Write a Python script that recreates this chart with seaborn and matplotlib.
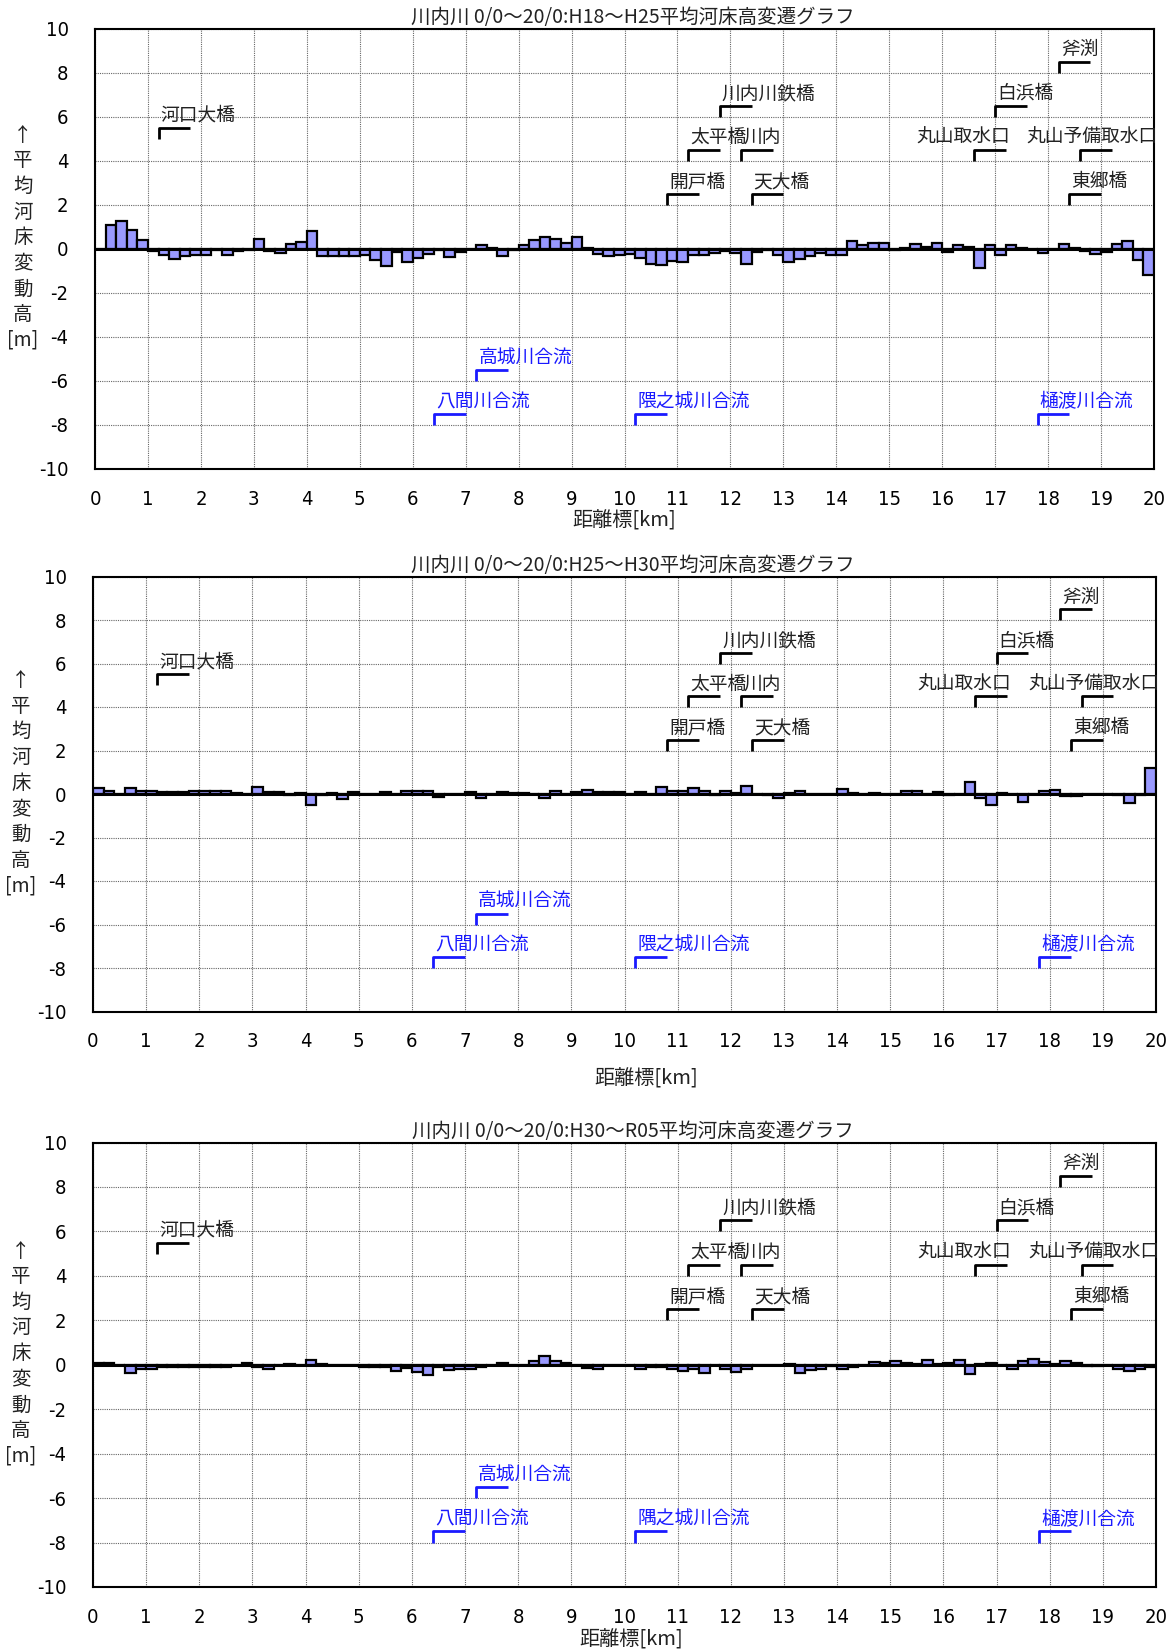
import numpy as np
import pandas as pd
import matplotlib
matplotlib.use("Agg")
import matplotlib.pyplot as plt
import seaborn as sns

sns.set_theme(style="white")
plt.rcParams["font.family"] = ["Noto Sans CJK JP", "DejaVu Sans"]
plt.rcParams["axes.unicode_minus"] = False

# ---- data -------------------------------------------------------------
# mean bed-level change per 0.2 km section (section start km = 0.0 ... 19.8)
section_start_km = [round(0.2 * i, 1) for i in range(100)]

titles = [
    "川内川 0/0～20/0:H18～H25平均河床高変遷グラフ",
    "川内川 0/0～20/0:H25～H30平均河床高変遷グラフ",
    "川内川 0/0～20/0:H30～R05平均河床高変遷グラフ",
]

dz_h18_h25 = [
    0.00, 1.10, 1.28, 0.87, 0.40, -0.12, -0.30, -0.46, -0.35, -0.27,
    -0.30, -0.05, -0.27, -0.08, -0.05, 0.44, -0.12, -0.20, 0.20, 0.30,
    0.79, -0.35, -0.35, -0.35, -0.35, -0.27, -0.50, -0.78, -0.17, -0.62,
    -0.43, -0.23, -0.05, -0.38, -0.17, -0.03, 0.15, 0.03, -0.35, -0.07,
    0.18, 0.41, 0.52, 0.46, 0.26, 0.52, 0.05, -0.24, -0.32, -0.27,
    -0.23, -0.40, -0.70, -0.73, -0.55, -0.62, -0.27, -0.27, -0.20, -0.12,
    -0.20, -0.70, -0.15, -0.05, -0.30, -0.60, -0.46, -0.33, -0.20, -0.28,
    -0.28, 0.33, 0.15, 0.28, 0.25, -0.05, 0.03, 0.20, 0.08, 0.28,
    -0.15, 0.17, 0.08, -0.87, 0.17, -0.30, 0.17, 0.03, 0.00, -0.20,
    0.00, 0.20, 0.05, -0.10, -0.23, -0.13, 0.23, 0.35, -0.50, -1.20,
]

dz_h25_h30 = [
    0.28, 0.13, 0.02, 0.26, 0.15, 0.12, 0.10, 0.08, 0.08, 0.15,
    0.12, 0.12, 0.15, 0.03, 0.00, 0.33, 0.10, 0.10, -0.03, 0.05,
    -0.50, -0.03, 0.05, -0.22, 0.08, 0.00, 0.00, 0.10, 0.00, 0.15,
    0.15, 0.15, -0.15, 0.00, 0.00, 0.10, -0.17, 0.00, 0.08, 0.03,
    0.05, 0.00, -0.20, 0.15, 0.00, 0.08, 0.20, 0.10, 0.08, 0.10,
    0.00, 0.10, 0.00, 0.30, 0.12, 0.12, 0.28, 0.12, -0.03, 0.12,
    0.05, 0.35, 0.00, -0.05, -0.18, 0.05, 0.13, 0.00, 0.00, 0.00,
    0.25, 0.04, 0.00, 0.04, 0.02, 0.00, 0.12, 0.12, 0.00, 0.08,
    -0.03, 0.00, 0.55, -0.18, -0.50, 0.05, 0.00, -0.38, 0.00, 0.12,
    0.18, -0.10, -0.10, 0.02, 0.00, 0.00, -0.04, -0.40, -0.06, 1.20,
]

dz_h30_r05 = [
    0.10, 0.10, 0.00, -0.37, -0.20, -0.20, -0.10, -0.10, -0.10, -0.12,
    -0.12, -0.10, -0.12, 0.00, 0.07, -0.12, -0.20, 0.00, 0.03, -0.03,
    0.20, 0.03, -0.03, -0.02, -0.02, -0.12, -0.10, -0.10, -0.28, -0.13,
    -0.33, -0.45, -0.10, -0.22, -0.20, -0.20, -0.12, 0.00, 0.08, 0.00,
    0.00, 0.15, 0.38, 0.15, 0.10, 0.00, -0.13, -0.20, 0.00, 0.00,
    0.00, -0.18, -0.10, -0.12, -0.20, -0.28, -0.20, -0.36, 0.00, -0.18,
    -0.32, -0.18, -0.03, -0.03, 0.00, 0.02, -0.38, -0.25, -0.17, -0.06,
    -0.17, -0.12, 0.00, 0.13, 0.10, 0.16, 0.08, 0.02, 0.20, 0.05,
    0.10, 0.20, -0.42, 0.02, 0.10, 0.00, -0.18, 0.16, 0.28, 0.13,
    0.02, 0.16, 0.06, -0.06, -0.06, -0.03, -0.18, -0.30, -0.18, -0.12,
]

series = [dz_h18_h25, dz_h25_h30, dz_h30_r05]

# bridges / intakes (black) and tributary confluences (blue)
bridge_names = ["河口大橋", "開戸橋", "太平橋", "川内", "天大橋", "川内川鉄橋",
                "丸山取水口", "白浜橋", "斧渕", "丸山予備取水口", "東郷橋"]
bridge_km = [1.2, 10.8, 11.2, 12.2, 12.4, 11.8, 16.6, 17.0, 18.2, 18.6, 18.4]
bridge_level = [5.0, 2.0, 4.0, 4.0, 2.0, 6.0, 4.0, 6.0, 8.0, 4.0, 2.0]

confluence_names = [
    ["八間川合流", "高城川合流", "隈之城川合流", "樋渡川合流"],
    ["八間川合流", "高城川合流", "隈之城川合流", "樋渡川合流"],
    ["八間川合流", "高城川合流", "隅之城川合流", "樋渡川合流"],
]
confluence_km = [6.4, 7.2, 10.2, 17.8]
confluence_level = [-8.0, -6.0, -8.0, -8.0]

x_ticks = list(range(0, 21))
y_ticks = list(range(-10, 11, 2))

# ---- figure -----------------------------------------------------------
W, H = 1176, 1652
fig = plt.figure(figsize=(W / 100, H / 100), dpi=100)

# axes boxes in pixels: left, top, right, bottom
boxes = [(95, 28.5, 1154, 469), (93, 576.5, 1156, 1011.5), (93, 1142.5, 1156, 1587)]
xlabel_pos = [(0.50, -0.119), (0.52, -0.155), (0.506, -0.119)]

BAR = "#9999ff"
BLUE = "#1a1aff"
DARK = "#222222"
label_size = 13.5

# labels whose text ends near the bracket instead of starting there
right_aligned = {"丸山取水口": 0.68, "丸山予備取水口": 1.47}

for i, (title, dz) in enumerate(zip(titles, series)):
    l, t, r, b = boxes[i]
    ax = fig.add_axes([l / W, 1 - b / H, (r - l) / W, (b - t) / H])

    df = pd.DataFrame({"km": [s + 0.1 for s in section_start_km], "dz": dz})
    sns.barplot(data=df, x="km", y="dz", native_scale=True, width=1.0,
                color=BAR, saturation=1, edgecolor="black", linewidth=1.6,
                errorbar=None, ax=ax, zorder=3)

    ax.axhline(0, color="black", lw=2.2, zorder=4)
    ax.set_xlim(0, 20)
    ax.set_ylim(-10, 10)
    ax.set_xticks(x_ticks)
    ax.set_yticks(y_ticks)
    ax.set_xticklabels([str(v) for v in x_ticks])
    ax.set_yticklabels([str(v) for v in y_ticks])
    ax.tick_params(axis="both", length=0, labelsize=14.5, colors="black")
    ax.tick_params(axis="x", pad=15)
    ax.tick_params(axis="y", pad=19)
    for lab in ax.get_xticklabels() + ax.get_yticklabels():
        lab.set_fontfamily(["DejaVu Sans"])
        lab.set_fontstretch("condensed")

    ax.grid(True, color="#666666", linestyle=(0, (1, 1)), linewidth=0.8, zorder=0)
    ax.set_axisbelow(True)
    for sp in ax.spines.values():
        sp.set_color("black")
        sp.set_linewidth(1.5)
    ax.set_xlabel("")
    ax.set_ylabel("")

    ax.set_title(title, fontsize=14, pad=4, color=DARK, x=0.508)
    ax.text(xlabel_pos[i][0], xlabel_pos[i][1], "距離標[km]", transform=ax.transAxes,
            ha="center", va="center", fontsize=14.5, color=DARK)
    ax.text(-0.068, 0.525, "\n".join(["↑", "平", "均", "河", "床", "変", "動", "高", "[m]"]),
            transform=ax.transAxes, ha="center", va="center", fontsize=14,
            linespacing=1.29, color=DARK)

    # bridge markers
    for name, km, lev in zip(bridge_names, bridge_km, bridge_level):
        ax.plot([km, km, km + 0.6], [lev, lev + 0.5, lev + 0.5],
                color="black", lw=2, solid_capstyle="butt", zorder=5)
        if name in right_aligned:
            ax.text(km + right_aligned[name], lev + 1.05, name, ha="right",
                    va="center", fontsize=label_size, color=DARK, zorder=6)
        else:
            ax.text(km + 0.04, lev + 1.05, name, ha="left", va="center",
                    fontsize=label_size, color=DARK, zorder=6)

    # confluence markers
    for name, km, lev in zip(confluence_names[i], confluence_km, confluence_level):
        ax.plot([km, km, km + 0.6], [lev, lev + 0.5, lev + 0.5],
                color=BLUE, lw=2, solid_capstyle="butt", zorder=5)
        ax.text(km + 0.04, lev + 1.05, name, ha="left", va="center",
                fontsize=label_size, color=BLUE, zorder=6)

fig.savefig("out.png", dpi=100)
